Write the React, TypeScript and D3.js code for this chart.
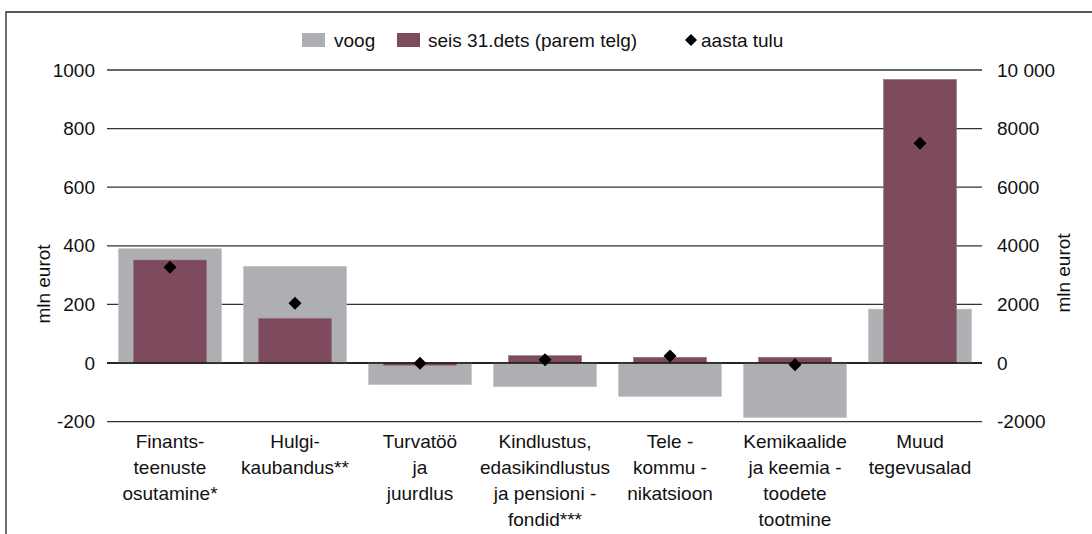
import React from "react";
import * as d3 from "d3";

const categories: string[][] = [
  ["Finants-", "teenuste", "osutamine*"],
  ["Hulgi-", "kaubandus**"],
  ["Turvatöö", "ja", "juurdlus"],
  ["Kindlustus,", "edasikindlustus", "ja pensioni -", "fondid***"],
  ["Tele -", "kommu -", "nikatsioon"],
  ["Kemikaalide", "ja keemia -", "toodete", "tootmine"],
  ["Muud", "tegevusalad"],
];
const voog: number[] = [390, 330, -74, -81, -114, -186, 184];
const seis: number[] = [3515, 1526, -80, 250, 195, 195, 9680];
const aastaTulu: number[] = [3266, 2040, -10, 112, 240, -58, 7500];

const leftTicks: number[] = [-200, 0, 200, 400, 600, 800, 1000];
const rightTicks: number[] = [-2000, 0, 2000, 4000, 6000, 8000, 10000];
const rightTickLabels: string[] = ["-2000", "0", "2000", "4000", "6000", "8000", "10 000"];
const legendLabels: string[] = ["voog", "seis 31.dets (parem telg)", "aasta tulu"];

const W = 1092;
const H = 534;
const FONT = "'Liberation Sans', Arial, Helvetica, sans-serif";
const GRAY = "#aeafb2";
const MAROON = "#7e4b5e";

export default function App() {
  const x = d3
    .scaleBand<number>()
    .domain(categories.map((_, i) => i))
    .range([107.5, 982.5])
    .paddingInner(0)
    .paddingOuter(0);
  const yL = d3.scaleLinear().domain([-200, 1000]).range([421.6, 70]);
  const yR = d3.scaleLinear().domain([-2000, 10000]).range([421.6, 70]);
  const bw = x.bandwidth();
  const grayW = bw * 0.824;
  const marW = bw * 0.585;
  const fs = 19;

  const diamond = (cx: number, cy: number, r: number) =>
    `M${cx},${cy - r}L${cx + r},${cy}L${cx},${cy + r}L${cx - r},${cy}Z`;

  return (
    <svg
      width={W}
      height={H}
      style={{ position: "fixed", left: 0, top: 0, display: "block", background: "#fff" }}
      fontFamily={FONT}
    >
      {/* frame */}
      <path d={`M6,${H + 5}L6,12L${W + 5},12`} fill="none" stroke="#222" strokeWidth={1.3} />

      {/* legend */}
      <g fontSize={fs} fill="#111">
        <rect x={302} y={33} width={23} height={14} fill={GRAY} />
        <text x={334} y={40} dy="0.35em">{legendLabels[0]}</text>
        <rect x={397} y={33} width={23} height={14} fill={MAROON} />
        <text x={428} y={40} dy="0.35em">{legendLabels[1]}</text>
        <path d={diamond(691, 40, 6)} fill="#000" />
        <text x={701} y={40} dy="0.35em">{legendLabels[2]}</text>
      </g>

      {/* gridlines */}
      {leftTicks.map((t) => (
        <line
          key={"g" + t}
          x1={107}
          x2={982}
          y1={yL(t)}
          y2={yL(t)}
          stroke="#333"
          strokeWidth={1.3}
        />
      ))}

      {/* voog bars */}
      {voog.map((v, i) => (
        <rect
          key={"v" + i}
          x={x(i)! + (bw - grayW) / 2}
          y={Math.min(yL(v), yL(0))}
          width={grayW}
          height={Math.abs(yL(v) - yL(0))}
          fill={GRAY}
          stroke="#c4c5c7"
          strokeWidth={0.6}
        />
      ))}

      {/* seis bars (right axis) */}
      {seis.map((v, i) => (
        <rect
          key={"s" + i}
          x={x(i)! + (bw - marW) / 2}
          y={Math.min(yR(v), yR(0))}
          width={marW}
          height={Math.abs(yR(v) - yR(0))}
          fill={MAROON}
          stroke="#9a7383"
          strokeWidth={0.6}
        />
      ))}

      {/* zero line */}
      <line x1={107} x2={982} y1={yL(0)} y2={yL(0)} stroke="#111" strokeWidth={1.4} />

      {/* aasta tulu diamonds (right axis) */}
      {aastaTulu.map((v, i) => (
        <path key={"d" + i} d={diamond(x(i)! + bw / 2, yR(v), 6.5)} fill="#000" />
      ))}

      {/* left axis labels */}
      <g fontSize={fs} fill="#111" textAnchor="end">
        {leftTicks.map((t) => (
          <text key={"l" + t} x={95} y={yL(t)} dy="0.35em">
            {String(t)}
          </text>
        ))}
      </g>

      {/* right axis labels */}
      <g fontSize={fs} fill="#111" textAnchor="start">
        {rightTicks.map((t, i) => (
          <text key={"r" + t} x={997} y={yR(t)} dy="0.35em">
            {rightTickLabels[i]}
          </text>
        ))}
      </g>

      {/* axis titles */}
      <text
        transform={`translate(43,284) rotate(-90)`}
        fontSize={fs}
        fill="#111"
        textAnchor="middle"
        dy="0.35em"
      >
        mln eurot
      </text>
      <text
        transform={`translate(1063,273) rotate(-90)`}
        fontSize={fs}
        fill="#111"
        textAnchor="middle"
        dy="0.35em"
      >
        mln eurot
      </text>

      {/* category labels */}
      <g fontSize={fs} fill="#111" textAnchor="middle">
        {categories.map((lines, i) => (
          <text key={"c" + i} x={x(i)! + bw / 2} y={441}>
            {lines.map((ln, j) => (
              <tspan key={j} x={x(i)! + bw / 2} dy={j === 0 ? "0.35em" : 26}>
                {ln}
              </tspan>
            ))}
          </text>
        ))}
      </g>
    </svg>
  );
}
